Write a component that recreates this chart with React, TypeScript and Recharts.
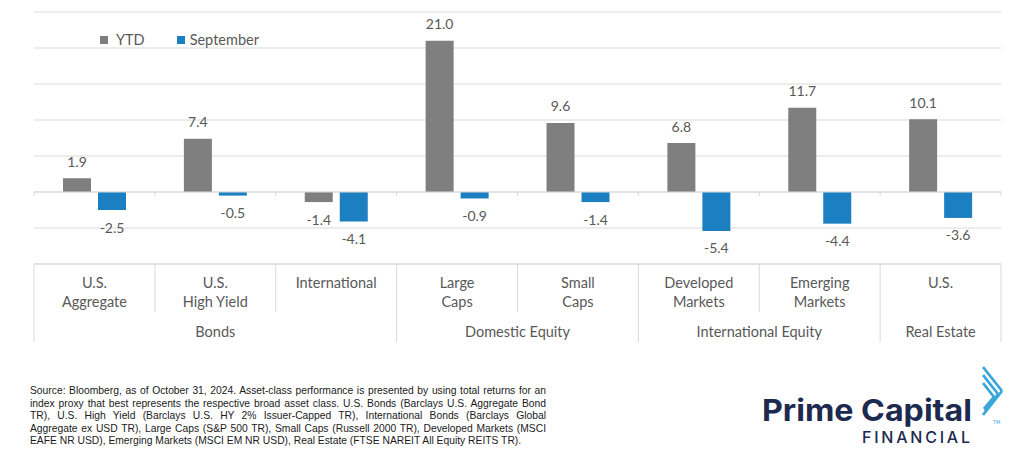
import React from "react";
import {
  BarChart,
  Bar,
  XAxis,
  YAxis,
  CartesianGrid,
  LabelList,
  Legend,
  ReferenceLine,
} from "recharts";

const categories = [
  "U.S. Aggregate",
  "U.S. High Yield",
  "International",
  "Large Caps",
  "Small Caps",
  "Developed Markets",
  "Emerging Markets",
  "U.S.",
];
const categoryLines = [
  ["U.S.", "Aggregate"],
  ["U.S.", "High Yield"],
  ["International"],
  ["Large", "Caps"],
  ["Small", "Caps"],
  ["Developed", "Markets"],
  ["Emerging", "Markets"],
  ["U.S."],
];
const groups = [
  "Bonds",
  "Bonds",
  "Bonds",
  "Domestic Equity",
  "Domestic Equity",
  "International Equity",
  "International Equity",
  "Real Estate",
];
const ytdValues = [1.9, 7.4, -1.4, 21.0, 9.6, 6.8, 11.7, 10.1];
const septemberValues = [-2.5, -0.5, -4.1, -0.9, -1.4, -5.4, -4.4, -3.6];
const yTicks = [-10, -5, 0, 5, 10, 15, 20, 25];
const seriesNames = ["YTD", "September"];

const data = categories.map((c, i) => ({
  name: c,
  ytd: ytdValues[i],
  sep: septemberValues[i],
}));

const FONT = "Lato, 'Open Sans', sans-serif";
const TEXT = "#595959";
const GRID = "#d9d9d9";

const sourceLines = [
  "Source: Bloomberg, as of October 31, 2024. Asset-class performance is presented by using total returns for an",
  "index proxy that best represents the respective broad asset class. U.S. Bonds (Barclays U.S. Aggregate Bond",
  "TR), U.S. High Yield (Barclays U.S. HY 2% Issuer-Capped TR), International Bonds (Barclays Global",
  "Aggregate ex USD TR), Large Caps (S&P 500 TR), Small Caps (Russell 2000 TR), Developed Markets (MSCI",
  "EAFE NR USD), Emerging Markets (MSCI EM NR USD), Real Estate (FTSE NAREIT All Equity REITS TR).",
];

const CategoryTick = (props: any) => {
  const { x, y, payload } = props;
  const i = payload.index;
  const half = payload.offset || 0;
  const left = x - half;
  const right = x + half;
  const isGroupStart = i === 0 || groups[i] !== groups[i - 1];
  const isLast = i === categories.length - 1;
  let span = 1;
  if (isGroupStart) {
    while (i + span < groups.length && groups[i + span] === groups[i]) span++;
  }
  const lines = categoryLines[i];
  return (
    <g>
      <line
        x1={left}
        x2={left}
        y1={y}
        y2={y + (isGroupStart ? 78 : 48)}
        stroke={GRID}
        strokeWidth={1}
      />
      {isLast && (
        <line x1={right} x2={right} y1={y} y2={y + 78} stroke={GRID} strokeWidth={1} />
      )}
      {lines.map((l, k) => (
        <text
          key={k}
          x={x}
          y={y + 24 + k * 19}
          textAnchor="middle"
          fontFamily={FONT}
          fontSize={14.5}
          fill={TEXT}
        >
          {l}
        </text>
      ))}
      {isGroupStart && (
        <text
          x={left + span * half}
          y={y + 73}
          textAnchor="middle"
          fontFamily={FONT}
          fontSize={14.5}
          fill={TEXT}
        >
          {groups[i]}
        </text>
      )}
    </g>
  );
};

const ZeroLine = (props: any) => {
  const { x1, x2, y1 } = props;
  const n = categories.length;
  const step = (x2 - x1) / n;
  const ticks = [];
  for (let k = 0; k <= n; k++) {
    ticks.push(
      <line
        key={k}
        x1={x1 + k * step}
        x2={x1 + k * step}
        y1={y1}
        y2={y1 + 4}
        stroke={GRID}
        strokeWidth={1}
      />
    );
  }
  return (
    <g>
      <line x1={x1} x2={x2} y1={y1} y2={y1} stroke={GRID} strokeWidth={1.2} />
      {ticks}
    </g>
  );
};

const ValueLabel = (props: any) => {
  const { x, y, width, height, value } = props;
  const top = Math.min(y, y + height);
  const bottom = Math.max(y, y + height);
  const cy = value >= 0 ? top - 17 : bottom + 17;
  return (
    <text
      x={x + width / 2}
      y={cy}
      textAnchor="middle"
      dominantBaseline="central"
      fontFamily={FONT}
      fontSize={14}
      fill={TEXT}
    >
      {Number(value).toFixed(1)}
    </text>
  );
};

const LegendContent = (props: any) => {
  const items = [...(props.payload || [])].sort(
    (a: any, b: any) => seriesNames.indexOf(a.value) - seriesNames.indexOf(b.value)
  );
  return (
    <div style={{ display: "flex", alignItems: "center", fontFamily: FONT, fontSize: 14.5, color: TEXT }}>
      {items.map((p: any, k: number) => (
        <div key={k} style={{ display: "flex", alignItems: "center", marginRight: k === 0 ? 32 : 0 }}>
          <span
            style={{
              display: "inline-block",
              width: 8,
              height: 8,
              background: p.color,
              marginRight: k === 0 ? 8 : 5,
            }}
          />
          <span>{p.value}</span>
        </div>
      ))}
    </div>
  );
};

const Logo = () => (
  <svg width={1024} height={459} style={{ position: "absolute", left: 0, top: 0 }}>
    <text
      x={762}
      y={421}
      fontFamily="Inter, 'DejaVu Sans', sans-serif"
      fontWeight={700}
      fontSize={30}
      fill="#1d2a50"
      textLength={210}
      lengthAdjust="spacingAndGlyphs"
    >
      Prime Capital
    </text>
    <text
      x={862}
      y={443}
      fontFamily="Inter, 'DejaVu Sans', sans-serif"
      fontWeight={500}
      fontSize={16}
      fill="#1d2a50"
      textLength={108}
      lengthAdjust="spacing"
    >
      FINANCIAL
    </text>
    <g stroke="#3aa6dc" strokeWidth={2.8} strokeLinecap="butt" fill="none">
      <line x1={983} y1={367} x2={1002} y2={391} />
      <line x1={983} y1={375} x2={998} y2={394} />
      <line x1={983} y1={383} x2={994} y2={397} />
      <line x1={1002} y1={391} x2={983} y2={415} />
      <line x1={994} y1={397} x2={984} y2={409} />
      <line x1={998} y1={394} x2={985} y2={411} />
    </g>
    <text x={993} y={424} fontFamily="'DejaVu Sans', sans-serif" fontSize={5} fill="#3aa6dc">
      TM
    </text>
  </svg>
);

export default function App() {
  return (
    <div
      style={{
        position: "absolute",
        left: 0,
        top: 0,
        width: 1024,
        height: 459,
        background: "#ffffff",
        overflow: "hidden",
      }}
    >
      <BarChart
        width={1024}
        height={345}
        data={data}
        margin={{ top: 12, right: 23, left: 34, bottom: 0 }}
        barCategoryGap="24%"
        barGap={7}
      >
        <CartesianGrid horizontal vertical={false} stroke={GRID} />
        <YAxis hide domain={[-10, 25]} ticks={yTicks} type="number" />
        <XAxis
          dataKey="name"
          height={81}
          interval={0}
          tickSize={0}
          tickMargin={0}
          tickLine={false}
          axisLine={{ stroke: GRID }}
          tick={<CategoryTick />}
        />
        <ReferenceLine y={0} stroke={GRID} shape={<ZeroLine />} />
        <Legend
          layout="horizontal"
          verticalAlign="middle"
          align="center"
          wrapperStyle={{ top: 31, left: 100, width: "auto", height: "auto" }}
          content={<LegendContent />}
        />
        <Bar dataKey="ytd" name="YTD" fill="#7f7f7f" isAnimationActive={false}>
          <LabelList dataKey="ytd" content={<ValueLabel />} />
        </Bar>
        <Bar dataKey="sep" name="September" fill="#1b7fc1" isAnimationActive={false}>
          <LabelList dataKey="sep" content={<ValueLabel />} />
        </Bar>
      </BarChart>
      <div
        style={{
          position: "absolute",
          left: 30,
          top: 385,
          width: 516,
          fontFamily: "'Liberation Sans', Arial, sans-serif",
          fontSize: 10.3,
          lineHeight: "12.5px",
          color: "#1a1a1a",
        }}
      >
        {sourceLines.map((l, k) => (
          <div
            key={k}
            style={{
              textAlign: "justify",
              textAlignLast: k === sourceLines.length - 1 ? "left" : "justify",
              whiteSpace: "nowrap",
            }}
          >
            {l}
          </div>
        ))}
      </div>
      <Logo />
    </div>
  );
}
